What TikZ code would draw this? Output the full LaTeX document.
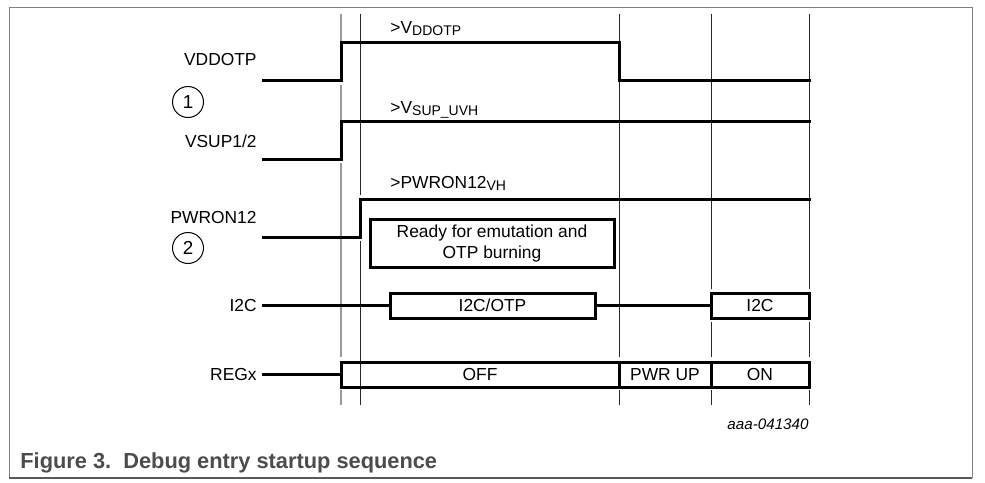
\documentclass[tikz,border=0pt]{standalone}
\usepackage{fontspec}
\setmainfont{Liberation Sans}
\newcommand{\lowsub}[1]{\raisebox{-1pt}{\fontsize{7}{7}\selectfont #1}}
\begin{document}
\begin{tikzpicture}[x=0.5pt, y=-0.5pt,
    every node/.style={font=\fontsize{8.7}{10.5}\selectfont},
    sig/.style={line width=1.5pt, line cap=rect},
    guide/.style={line width=0.5pt, black!85},
    fguide/.style={line width=1pt, black!40},
    lbl/.style={anchor=east, inner sep=3pt},
    bus/.style={draw, line width=1.5pt, inner sep=0pt, minimum height=12.5pt},
    num/.style={draw, circle, line width=0.5pt, minimum size=15.5pt, inner sep=0pt,
      font=\fontsize{9.4}{10}\selectfont}]
  \useasboundingbox (0,0) rectangle (985,482);
  % frame
  \draw[black!50, line width=0.5pt] (9,478) -- (9,7) -- (972,7) -- (972,478);
  \draw[black!65, line width=1pt] (9,478) -- (972,478);
  % guide lines
  \foreach \a/\b in {14/80, 85/159, 163/357, 390/405}
    \draw[fguide] (341,\a) -- (341,\b);
  \foreach \a/\b in {14/195, 241/405}
    \draw[guide] (360,\a) -- (360,\b);
  \foreach \a/\b in {14/357, 390/405}
    \draw[guide] (619,\a) -- (619,\b);
  \foreach \x in {711, 809}
    \foreach \a/\b in {14/289, 322/357, 390/405}
      \draw[guide] (\x,\a) -- (\x,\b);
  % VDDOTP
  \node[lbl] (vdd) at (263,60) {VDDOTP};
  \draw[sig] (263,80) -- (341,80) -- (341,42) -- (619,42) -- (619,80) -- (809,80);
  \node[anchor=base west, inner sep=0pt] (vddth) at (390,33) {>V\lowsub{DDOTP}};
  \node[num] (one) at (188,102) {1};
  % VSUP1/2
  \node[lbl] (vsup) at (263,141) {VSUP1/2};
  \draw[sig] (263,159) -- (341,159) -- (341,121) -- (809,121);
  \node[anchor=base west, inner sep=0pt] (vsupth) at (390,113) {>V\lowsub{SUP\_UVH}};
  % PWRON12
  \node[lbl] (pwr) at (263,218) {PWRON12};
  \draw[sig] (263,237) -- (360,237) -- (360,199) -- (809,199);
  \node[anchor=base west, inner sep=0pt] (pwrth) at (390,188) {>PWRON12\lowsub{VH}};
  \node[num] (two) at (188,248) {2};
  \node[bus, minimum width=122pt, minimum height=24pt, align=center] (ready) at (492,243)
    {Ready for emutation and\\OTP burning};
  % I2C
  \node[lbl] (i2c) at (263,305.5) {I2C};
  \node[bus, minimum width=102.5pt] (otp) at (492.5,305.5) {I2C/OTP};
  \node[bus, minimum width=49pt] (i2cb) at (760,305.5) {I2C};
  \draw[sig] (i2c.east) -- (otp.west);
  \draw[sig] (otp.east) -- (i2cb.west);
  % REGx
  \node[lbl] (reg) at (263,374.5) {REGx};
  \node[bus, minimum width=139pt] (off) at (480,374.5) {OFF};
  \node[bus, minimum width=46pt] (up) at (665,374.5) {PWR UP};
  \node[bus, minimum width=49pt] (on) at (760,374.5) {ON};
  \draw[sig] (reg.east) -- (off.west);
  % caption
  \node[anchor=base east, inner sep=0pt, font=\fontsize{7.6}{9}\selectfont\itshape] (tag) at (809,429) {aaa-041340};
  \node[anchor=base west, inner sep=0pt, text=black!70, font=\fontsize{10.9}{12}\selectfont\bfseries] (cap) at (20,468)
    {Figure 3.\ \ Debug entry startup sequence};
\end{tikzpicture}
\end{document}
